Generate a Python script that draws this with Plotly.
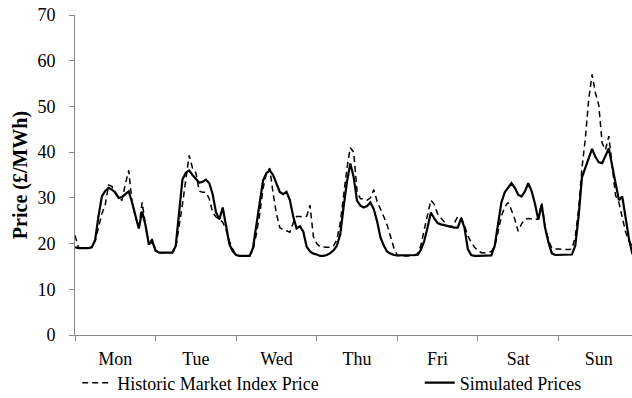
import plotly.graph_objects as go

days = ["Mon", "Tue", "Wed", "Thu", "Fri", "Sat", "Sun"]

# hourly prices (£/MWh), one row of 24 values per day
historic_price = [
    21.8, 19.2, 19.0, 19.0, 19.0, 19.3, 20.5, 23.5, 26.5, 28.5, 32.8, 32.5, 31.0, 29.9, 29.5, 33.0, 36.0, 29.0, 25.8, 23.5, 29.0, 24.0, 20.0, 21.0,
    18.3, 18.0, 18.0, 18.0, 18.0, 18.0, 19.0, 23.5, 28.5, 34.0, 39.3, 36.5, 35.5, 31.5, 31.2, 31.2, 29.8, 26.8, 25.8, 25.3, 24.7, 23.0, 20.5, 18.7,
    17.5, 17.3, 17.3, 17.3, 17.3, 18.5, 22.0, 26.3, 32.0, 35.4, 36.5, 31.0, 26.5, 23.5, 23.0, 22.8, 22.5, 24.5, 25.9, 25.9, 25.8, 26.0, 28.4, 21.5,
    20.0, 19.3, 19.2, 19.2, 19.2, 19.5, 20.8, 24.5, 30.5, 36.5, 41.0, 40.0, 31.5, 29.8, 29.8, 29.5, 30.0, 31.8, 29.2, 27.6, 25.8, 24.0, 21.5, 19.0,
    17.4, 17.3, 17.3, 17.3, 17.3, 17.4, 17.8, 19.5, 23.0, 26.3, 29.5, 28.6, 26.5, 25.6, 24.6, 23.8, 23.7, 24.5, 25.9, 25.8, 24.0, 21.7, 20.3, 19.2,
    18.5, 18.0, 18.0, 18.0, 18.3, 19.3, 22.5, 26.0, 28.0, 29.0, 27.3, 25.3, 22.7, 24.3, 25.3, 25.5, 25.4, 25.2, 25.5, 29.0, 23.7, 20.8, 19.0, 18.8,
    18.8, 18.7, 18.7, 18.7, 18.8, 21.5, 27.5, 36.5, 43.0, 51.5, 57.0, 53.0, 50.3, 42.0, 40.5, 43.5, 36.5, 30.5, 29.0, 26.0, 22.5, 20.5, 19.5, 19.0,
]

simulated_price = [
    19.2, 19.0, 19.0, 19.0, 19.0, 19.2, 20.8, 26.0, 30.3, 31.5, 32.2, 31.8, 31.2, 30.0, 30.2, 30.8, 31.4, 29.0, 25.8, 23.3, 27.0, 24.0, 19.8, 20.5,
    18.5, 18.0, 18.0, 18.0, 18.0, 18.0, 19.5, 27.5, 34.0, 35.5, 36.0, 35.0, 34.2, 33.3, 33.5, 34.0, 33.2, 30.8, 26.8, 25.3, 27.9, 23.5, 19.8, 18.3,
    17.5, 17.3, 17.3, 17.3, 17.3, 19.0, 24.0, 28.7, 33.8, 35.4, 36.0, 35.0, 32.9, 31.3, 30.8, 31.3, 29.5, 25.9, 23.3, 23.8, 22.6, 19.3, 18.3, 17.8,
    17.6, 17.3, 17.3, 17.5, 17.9, 18.5, 19.5, 22.0, 28.0, 33.5, 37.5, 34.5, 29.4, 28.3, 27.9, 28.2, 29.0, 27.5, 24.8, 21.3, 19.5, 18.2, 17.8, 17.5,
    17.4, 17.4, 17.4, 17.4, 17.4, 17.4, 17.5, 18.6, 20.5, 23.5, 26.8, 25.5, 24.5, 24.2, 24.0, 23.8, 23.7, 23.5, 23.5, 25.5, 23.5, 18.8, 17.5, 17.3,
    17.3, 17.3, 17.3, 17.3, 17.4, 19.5, 24.0, 29.0, 31.2, 32.2, 33.2, 32.2, 30.7, 30.3, 31.4, 33.2, 31.5, 28.7, 25.2, 28.5, 23.5, 20.3, 17.9, 17.5,
    17.5, 17.5, 17.5, 17.5, 17.6, 19.5, 26.0, 34.5, 36.5, 38.5, 40.7, 39.0, 37.8, 37.6, 39.2, 40.8, 37.0, 33.0, 29.5, 30.3, 25.8, 21.0, 17.8, 17.6,
]

hours = list(range(len(simulated_price)))
font_family = "Liberation Serif, Times New Roman, serif"
axis_grey = "#888888"

fig = go.Figure()
fig.add_trace(go.Scatter(
    x=hours, y=historic_price, mode="lines",
    name="Historic Market Index Price", legend="legend",
    line=dict(color="black", width=1.5, dash="6px,4px"),
))
fig.add_trace(go.Scatter(
    x=hours, y=simulated_price, mode="lines",
    name="Simulated Prices", legend="legend2",
    line=dict(color="black", width=2.2),
))

fig.update_xaxes(
    range=[0, 165.9],
    tickvals=[12 + 24 * i for i in range(len(days))],
    ticktext=days,
    ticks="",
    ticklabelstandoff=7,
    showline=True, linecolor=axis_grey, linewidth=1,
    showgrid=False, zeroline=False, automargin=False,
    minor=dict(tickvals=[24 * i for i in range(len(days) + 1)],
               ticks="outside", ticklen=5, tickcolor=axis_grey, showgrid=False),
)
fig.update_yaxes(
    range=[0, 70], dtick=10,
    ticks="outside", ticklen=5, tickcolor=axis_grey,
    ticklabelstandoff=10, ticklabeloverflow="allow",
    showline=True, linecolor=axis_grey, linewidth=1,
    showgrid=False, zeroline=False, automargin=False,
    title=dict(text="<b>Price (£/MWh)</b>", font=dict(size=20), standoff=4),
)

legend_style = dict(
    orientation="h", y=-0.15, xanchor="left", yanchor="middle",
    font=dict(size=18), bgcolor="rgba(0,0,0,0)",
)

fig.update_layout(
    width=632, height=398,
    margin=dict(l=75, r=0, t=15, b=63, autoexpand=False),
    paper_bgcolor="white", plot_bgcolor="white",
    font=dict(family=font_family, size=18, color="black"),
    showlegend=True,
    legend=dict(x=0.004, **legend_style),
    legend2=dict(x=0.619, **legend_style),
)

# drop the default 8px body margin so the figure fills the window
fig.write_html(
    "out.html",
    config={"displayModeBar": False},
    post_script="document.body.style.margin = '0';",
)
